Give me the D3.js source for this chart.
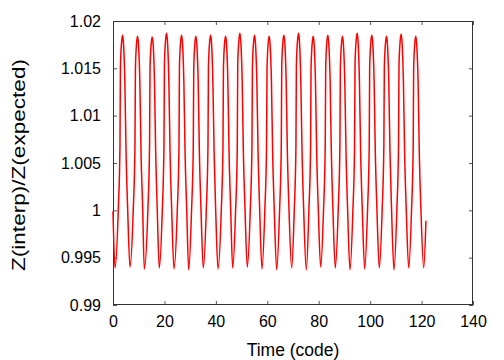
<!DOCTYPE html>
<html><head><meta charset="utf-8">
<script src="https://cdn.jsdelivr.net/npm/d3@7"></script>
<style>body{margin:0;background:#fff}svg{display:block}</style>
</head><body>
<svg id="c" width="504" height="360"></svg>
<script>
// Time (code) values
const time = [
 0.00, 0.78,
 2.05, 2.71, 2.89, 3.42, 3.77, 4.17, 4.62, 5.07, 5.72, 6.61,
 7.88, 8.54, 8.72, 9.25, 9.60, 10.00, 10.45, 10.90, 11.55, 12.17,
 13.56, 14.22, 14.40, 14.93, 15.28, 15.68, 16.13, 16.58, 17.23, 18.00,
 19.16, 19.82, 20.00, 20.53, 20.88, 21.28, 21.73, 22.18, 22.83, 23.72,
 25.00, 25.66, 25.84, 26.37, 26.72, 27.12, 27.57, 28.02, 28.67, 29.44,
 30.56, 31.22, 31.40, 31.93, 32.28, 32.68, 33.13, 33.58, 34.23, 35.12,
 36.28, 36.94, 37.12, 37.65, 38.00, 38.40, 38.85, 39.30, 39.95, 40.83,
 42.11, 42.77, 42.95, 43.48, 43.83, 44.23, 44.68, 45.13, 45.78, 46.55,
 47.67, 48.33, 48.51, 49.04, 49.39, 49.79, 50.24, 50.69, 51.34, 52.23,
 53.38, 54.04, 54.22, 54.75, 55.10, 55.50, 55.95, 56.40, 57.05, 57.94,
 59.06, 59.72, 59.90, 60.43, 60.78, 61.18, 61.63, 62.08, 62.73, 63.66,
 64.78, 65.44, 65.62, 66.15, 66.50, 66.90, 67.35, 67.80, 68.45, 69.50,
 70.48, 71.14, 71.32, 71.85, 72.20, 72.60, 73.05, 73.50, 74.15, 75.17,
 76.18, 76.84, 77.02, 77.55, 77.90, 78.30, 78.75, 79.20, 79.85, 80.77,
 81.88, 82.54, 82.72, 83.25, 83.60, 84.00, 84.45, 84.90, 85.55, 86.45,
 87.58, 88.24, 88.42, 88.95, 89.30, 89.70, 90.15, 90.60, 91.25, 92.17,
 93.28, 93.94, 94.12, 94.65, 95.00, 95.40, 95.85, 96.30, 96.95, 97.88,
 98.98, 99.64, 99.82, 100.35, 100.70, 101.10, 101.55, 102.00, 102.65, 103.56,
 104.68, 105.34, 105.52, 106.05, 106.40, 106.80, 107.25, 107.70, 108.35, 109.28,
 110.38, 111.04, 111.22, 111.75, 112.10, 112.50, 112.95, 113.40, 114.05, 115.00,
 116.08, 116.74, 116.92, 117.45, 117.80, 118.20, 118.65, 119.10, 119.75, 120.83,
 121.70
];
// Z(interp)/Z(expected) values
const ratio = [
 0.9999, 0.9939,
 1.0000, 1.0068, 1.0152, 1.0180, 1.0185, 1.0172, 1.0135, 1.0063, 1.0000, 0.9940,
 1.0001, 1.0067, 1.0150, 1.0179, 1.0184, 1.0171, 1.0134, 1.0062, 1.0001, 0.9938,
 1.0000, 1.0069, 1.0151, 1.0178, 1.0183, 1.0173, 1.0136, 1.0064, 0.9999, 0.9939,
 0.9999, 1.0068, 1.0154, 1.0182, 1.0187, 1.0174, 1.0135, 1.0063, 1.0000, 0.9938,
 1.0000, 1.0067, 1.0152, 1.0180, 1.0185, 1.0172, 1.0134, 1.0062, 1.0001, 0.9937,
 1.0001, 1.0068, 1.0150, 1.0179, 1.0184, 1.0171, 1.0136, 1.0063, 1.0000, 0.9939,
 1.0000, 1.0069, 1.0152, 1.0180, 1.0185, 1.0173, 1.0135, 1.0064, 0.9999, 0.9938,
 1.0000, 1.0068, 1.0151, 1.0179, 1.0184, 1.0172, 1.0134, 1.0062, 1.0000, 0.9939,
 0.9999, 1.0067, 1.0154, 1.0182, 1.0187, 1.0174, 1.0136, 1.0063, 1.0001, 0.9940,
 1.0000, 1.0068, 1.0152, 1.0180, 1.0185, 1.0172, 1.0135, 1.0064, 1.0000, 0.9938,
 1.0001, 1.0069, 1.0150, 1.0179, 1.0184, 1.0171, 1.0134, 1.0062, 0.9999, 0.9937,
 1.0000, 1.0068, 1.0152, 1.0180, 1.0185, 1.0173, 1.0136, 1.0063, 1.0000, 0.9939,
 0.9999, 1.0067, 1.0154, 1.0182, 1.0187, 1.0174, 1.0135, 1.0064, 1.0001, 0.9937,
 1.0000, 1.0068, 1.0151, 1.0179, 1.0184, 1.0172, 1.0134, 1.0062, 1.0000, 0.9940,
 1.0001, 1.0069, 1.0152, 1.0180, 1.0185, 1.0172, 1.0136, 1.0063, 0.9999, 0.9939,
 1.0000, 1.0068, 1.0150, 1.0179, 1.0184, 1.0171, 1.0135, 1.0064, 1.0000, 0.9937,
 0.9999, 1.0067, 1.0154, 1.0182, 1.0187, 1.0174, 1.0134, 1.0062, 1.0001, 0.9938,
 1.0000, 1.0068, 1.0152, 1.0180, 1.0185, 1.0173, 1.0136, 1.0063, 1.0000, 0.9939,
 1.0001, 1.0069, 1.0151, 1.0179, 1.0184, 1.0172, 1.0135, 1.0064, 0.9999, 0.9937,
 1.0000, 1.0068, 1.0153, 1.0181, 1.0186, 1.0173, 1.0134, 1.0062, 1.0000, 0.9939,
 0.9999, 1.0067, 1.0150, 1.0179, 1.0184, 1.0171, 1.0136, 1.0063, 1.0001, 0.9939,
 0.9989
];
const xTicks = [0, 20, 40, 60, 80, 100, 120, 140];
const yTicks = [0.99, 0.995, 1.0, 1.005, 1.01, 1.015, 1.02];
const yTickLabels = ["0.99", "0.995", "1", "1.005", "1.01", "1.015", "1.02"];
const xTitle = "Time (code)";
const yTitle = "Z(interp)/Z(expected)";

const svg = d3.select("#c");
const L = 113, R = 473, T = 21, B = 305;
const xScale = d3.scaleLinear().domain([0, 140]).range([L, R]);
const yScale = d3.scaleLinear().domain([0.99, 1.02]).range([B, T]);
const font = "'Liberation Sans', Arial, sans-serif";
const axisColor = "#333";

const gBottom = svg.append("g").attr("transform", `translate(0,${B})`)
  .call(d3.axisBottom(xScale).tickValues(xTicks).tickSizeInner(-4).tickSizeOuter(0).tickPadding(11).tickFormat(d3.format("d")));
const gLeft = svg.append("g").attr("transform", `translate(${L},0)`)
  .call(d3.axisLeft(yScale).tickValues(yTicks).tickSizeInner(-4).tickSizeOuter(0).tickPadding(12).tickFormat((d, i) => yTickLabels[i]));
const gTop = svg.append("g").attr("transform", `translate(0,${T})`)
  .call(d3.axisTop(xScale).tickValues(xTicks).tickSizeInner(-4).tickSizeOuter(0).tickFormat(""));
const gRight = svg.append("g").attr("transform", `translate(${R},0)`)
  .call(d3.axisRight(yScale).tickValues(yTicks).tickSizeInner(-4).tickSizeOuter(0).tickFormat(""));
[gBottom, gLeft, gTop, gRight].forEach(g => {
  g.select(".domain").remove();
  g.selectAll(".tick line").attr("stroke", "#555").attr("stroke-width", 1);
  g.selectAll("text").attr("font-family", font).attr("font-size", 16).attr("fill", "#000");
});
svg.append("rect").attr("x", L + 0.5).attr("y", T + 0.5).attr("width", R - L - 1).attr("height", B - T - 1)
  .attr("fill", "none").attr("stroke", axisColor).attr("stroke-width", 1);

const pts = time.map((t, i) => [t, ratio[i]]);
svg.append("path").datum(pts)
  .attr("fill", "none").attr("stroke", "#ff0000").attr("stroke-width", 1.5)
  .attr("stroke-linejoin", "round")
  .attr("d", d3.line().x(d => xScale(d[0])).y(d => yScale(d[1])).curve(d3.curveMonotoneX));

svg.append("text").attr("x", (L + R) / 2).attr("y", 356).attr("text-anchor", "middle")
  .attr("font-family", font).attr("font-size", 17.5).text(xTitle);
svg.append("text").attr("transform", `translate(25,${(T + B) / 2 + 2}) rotate(-90)`).attr("text-anchor", "middle")
  .attr("font-family", font).attr("font-size", 18)
  .attr("textLength", 212).attr("lengthAdjust", "spacingAndGlyphs").text(yTitle);
</script>
</body></html>
